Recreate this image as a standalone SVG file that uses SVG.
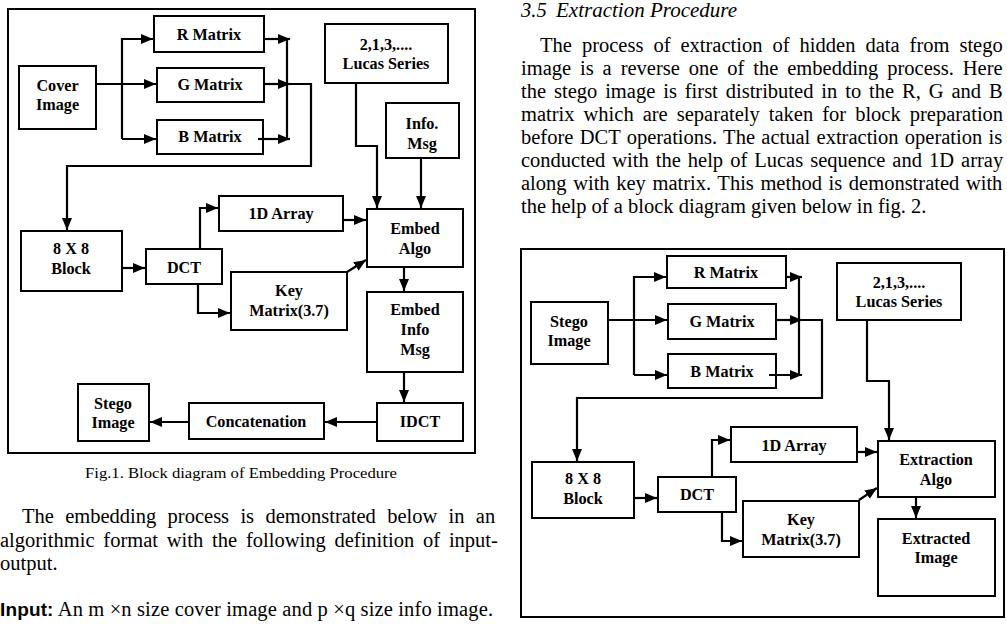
<svg xmlns="http://www.w3.org/2000/svg" width="1007" height="625" viewBox="0 0 1007 625">
<style>
.box{fill:#fff;stroke:#000;stroke-width:2}
.frame{fill:none;stroke:#000;stroke-width:2}
.lbl{font-family:"Liberation Serif","Times New Roman",serif;font-weight:bold;font-size:16.2px;text-anchor:middle;fill:#000}
.body{font-family:"Liberation Serif","Times New Roman",serif;font-size:20.5px;fill:#000}
.cap{font-family:"Liberation Serif","Times New Roman",serif;font-size:15px;fill:#000;text-anchor:middle}
.c{fill:none;stroke:#000;stroke-width:2.2}
</style>
<defs>
<marker id="ah" markerUnits="userSpaceOnUse" markerWidth="14" markerHeight="12" refX="12" refY="5" orient="auto">
<path d="M0,0 L12,5 L0,10 z" fill="#000"/>
</marker>
</defs>
<rect width="1007" height="625" fill="#fff"/>

<!-- Figure 1 -->
<rect class="frame" x="8" y="9" width="467" height="444"/>
<g id="f1-cover"><rect class="box" x="19" y="66" width="77" height="63"/><text class="lbl" x="57.5" y="91">Cover</text><text class="lbl" x="57.5" y="110">Image</text></g>
<g id="f1-r"><rect class="box" x="154" y="16" width="110" height="36"/><text class="lbl" x="209" y="40">R Matrix</text></g>
<g id="f1-g"><rect class="box" x="157" y="68" width="107" height="34"/><text class="lbl" x="210" y="90">G Matrix</text></g>
<g id="f1-b"><rect class="box" x="157" y="120" width="106" height="34"/><text class="lbl" x="210" y="142">B Matrix</text></g>
<g id="f1-lucas"><rect class="box" x="325" y="24" width="123" height="59"/><text class="lbl" x="386" y="50">2,1,3,....</text><text class="lbl" x="386" y="69">Lucas Series</text></g>
<g id="f1-info"><rect class="box" x="386" y="103" width="73" height="55"/><text class="lbl" x="422" y="129">Info.</text><text class="lbl" x="422" y="149">Msg</text></g>
<g id="f1-1d"><rect class="box" x="219" y="196" width="124" height="35"/><text class="lbl" x="281" y="219">1D Array</text></g>
<g id="f1-embed"><rect class="box" x="367" y="209" width="96" height="58"/><text class="lbl" x="415" y="234">Embed</text><text class="lbl" x="415" y="254">Algo</text></g>
<g id="f1-block"><rect class="box" x="21" y="231" width="101" height="60"/><text class="lbl" x="71" y="254">8 X 8</text><text class="lbl" x="71" y="274">Block</text></g>
<g id="f1-dct"><rect class="box" x="146" y="249" width="76" height="35"/><text class="lbl" x="184" y="273">DCT</text></g>
<g id="f1-key"><rect class="box" x="231" y="272" width="116" height="58"/><text class="lbl" x="289" y="296">Key</text><text class="lbl" x="289" y="316">Matrix(3.7)</text></g>
<g id="f1-eim"><rect class="box" x="367" y="292" width="96" height="80"/><text class="lbl" x="415" y="315">Embed</text><text class="lbl" x="415" y="335">Info</text><text class="lbl" x="415" y="355">Msg</text></g>
<g id="f1-idct"><rect class="box" x="377" y="403" width="86" height="38"/><text class="lbl" x="420" y="427">IDCT</text></g>
<g id="f1-concat"><rect class="box" x="189" y="403" width="135" height="36"/><text class="lbl" x="256" y="427">Concatenation</text></g>
<g id="f1-stego"><rect class="box" x="78" y="384" width="71" height="57"/><text class="lbl" x="113" y="409">Stego</text><text class="lbl" x="113" y="428">Image</text></g>

<g id="f1-connectors">
<path class="c" d="M96,84 H156" marker-end="url(#ah)"/>
<path class="c" d="M122,139 V39 H153" marker-end="url(#ah)"/>
<path class="c" d="M122,139 H156" marker-end="url(#ah)"/>
<path class="c" d="M263,39 H290" marker-end="url(#ah)"/>
<path class="c" d="M264,84 H290" marker-end="url(#ah)"/>
<path class="c" d="M258,139 H290" marker-end="url(#ah)"/>
<path class="c" d="M287,39 V139"/>
<path class="c" d="M287,84 H311 V166 H67 V230" marker-end="url(#ah)"/>
<path class="c" d="M356,83 V146 H377 V208" marker-end="url(#ah)"/>
<path class="c" d="M421,158 V208" marker-end="url(#ah)"/>
<path class="c" d="M343,220 H366" marker-end="url(#ah)"/>
<path class="c" d="M200,249 V208 H218" marker-end="url(#ah)"/>
<path class="c" d="M122,268 H145" marker-end="url(#ah)"/>
<path class="c" d="M190,284 H198 V313 H230" marker-end="url(#ah)"/>
<path class="c" d="M347,272 L366,260" marker-end="url(#ah)"/>
<path class="c" d="M404,267 V291" marker-end="url(#ah)"/>
<path class="c" d="M404,372 V402" marker-end="url(#ah)"/>
<path class="c" d="M377,422 H325" marker-end="url(#ah)"/>
<path class="c" d="M189,422 H150" marker-end="url(#ah)"/>
</g>

<text class="cap" x="241" y="478" textLength="312" lengthAdjust="spacingAndGlyphs">Fig.1. Block diagram of Embedding Procedure</text>

<text class="body" x="22" y="523" word-spacing="6.2">The embedding process is demonstrated below in an</text>
<text class="body" x="0" y="547" word-spacing="3.7">algorithmic format with the following definition of input-</text>
<text class="body" x="0" y="570">output.</text>
<text class="body" x="0" y="616" textLength="493" lengthAdjust="spacing"><tspan font-weight="bold" font-family="'Liberation Sans',Arial,sans-serif" font-size="19">Input:</tspan> An m ×n size cover image and p ×q size info image.</text>

<!-- right text -->
<text class="body" y="17" font-style="italic"><tspan x="521">3.5</tspan><tspan x="556" textLength="181" lengthAdjust="spacingAndGlyphs">Extraction Procedure</tspan></text>
<text class="body" x="540" y="52" word-spacing="4.9">The process of extraction of hidden data from stego</text>
<text class="body" x="521" y="75" word-spacing="3.8">image is a reverse one of the embedding process. Here</text>
<text class="body" x="521" y="98" word-spacing="2.8">the stego image is first distributed in to the R, G and B</text>
<text class="body" x="521" y="121" word-spacing="3.9">matrix which are separately taken for block preparation</text>
<text class="body" x="521" y="144" word-spacing="1.2">before DCT operations. The actual extraction operation is</text>
<text class="body" x="521" y="167" word-spacing="1.9">conducted with the help of Lucas sequence and 1D array</text>
<text class="body" x="521" y="190" word-spacing="1.5">along with key matrix. This method is demonstrated with</text>
<text class="body" x="521" y="213">the help of a block diagram given below in fig. 2.</text>

<!-- Figure 2 -->
<rect class="frame" x="521" y="249" width="483" height="368"/>
<g id="f2-stego"><rect class="box" x="531" y="302" width="77" height="62"/><text class="lbl" x="569" y="327">Stego</text><text class="lbl" x="569" y="346">Image</text></g>
<g id="f2-r"><rect class="box" x="667" y="256" width="119" height="32"/><text class="lbl" x="726" y="278">R Matrix</text></g>
<g id="f2-g"><rect class="box" x="668" y="304" width="108" height="35"/><text class="lbl" x="722" y="327">G Matrix</text></g>
<g id="f2-b"><rect class="box" x="668" y="354" width="108" height="34"/><text class="lbl" x="722" y="377">B Matrix</text></g>
<g id="f2-lucas"><rect class="box" x="837" y="263" width="124" height="57"/><text class="lbl" x="899" y="288">2,1,3,....</text><text class="lbl" x="899" y="307">Lucas Series</text></g>
<g id="f2-1d"><rect class="box" x="731" y="427" width="126" height="35"/><text class="lbl" x="794" y="451">1D Array</text></g>
<g id="f2-extr"><rect class="box" x="878" y="441" width="117" height="56"/><text class="lbl" x="936" y="465">Extraction</text><text class="lbl" x="936" y="485">Algo</text></g>
<g id="f2-block"><rect class="box" x="532" y="462" width="102" height="56"/><text class="lbl" x="583" y="484">8 X 8</text><text class="lbl" x="583" y="504">Block</text></g>
<g id="f2-dct"><rect class="box" x="658" y="477" width="78" height="35"/><text class="lbl" x="697" y="500">DCT</text></g>
<g id="f2-key"><rect class="box" x="743" y="501" width="116" height="56"/><text class="lbl" x="801" y="525">Key</text><text class="lbl" x="801" y="545">Matrix(3.7)</text></g>
<g id="f2-extimg"><rect class="box" x="878" y="519" width="117" height="77"/><text class="lbl" x="936" y="544">Extracted</text><text class="lbl" x="936" y="563">Image</text></g>

<g id="f2-connectors">
<path class="c" d="M608,320 H667" marker-end="url(#ah)"/>
<path class="c" d="M634,375 V277 H666" marker-end="url(#ah)"/>
<path class="c" d="M634,375 H667" marker-end="url(#ah)"/>
<path class="c" d="M786,277 H802" marker-end="url(#ah)"/>
<path class="c" d="M776,320 H802" marker-end="url(#ah)"/>
<path class="c" d="M769,375 H802" marker-end="url(#ah)"/>
<path class="c" d="M799,277 V375"/>
<path class="c" d="M799,320 H822 V398 H577 V461" marker-end="url(#ah)"/>
<path class="c" d="M867,320 V381 H889 V440" marker-end="url(#ah)"/>
<path class="c" d="M857,452 H877" marker-end="url(#ah)"/>
<path class="c" d="M712,477 V440 H730" marker-end="url(#ah)"/>
<path class="c" d="M634,498 H657" marker-end="url(#ah)"/>
<path class="c" d="M702,512 H722 V541 H742" marker-end="url(#ah)"/>
<path class="c" d="M859,500 L877,488" marker-end="url(#ah)"/>
<path class="c" d="M916,497 V518" marker-end="url(#ah)"/>
</g>
</svg>
